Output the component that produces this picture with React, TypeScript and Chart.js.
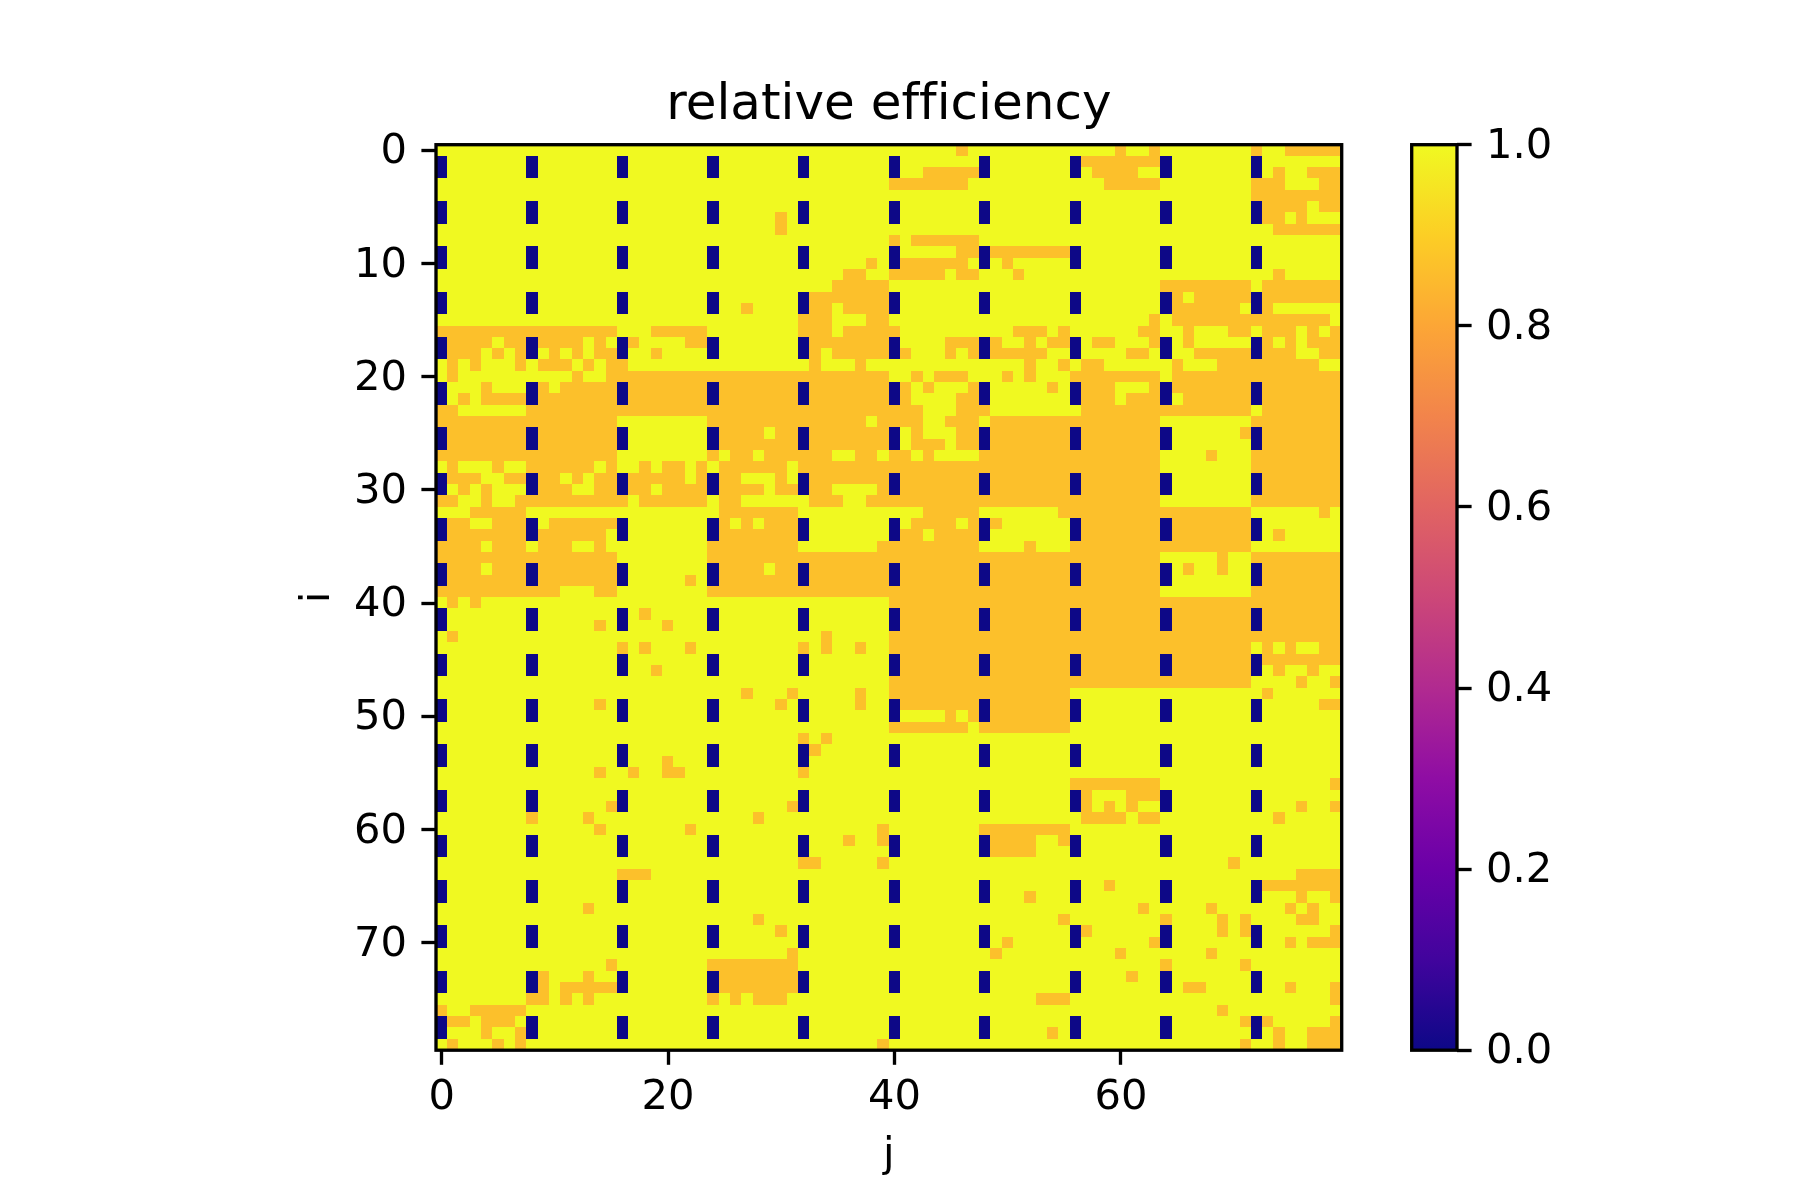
import React, { useEffect, useRef } from "react";
import { Chart, registerables, BarElement } from "chart.js";

Chart.register(...registerables);

const titleText = "relative efficiency";
const xLabel = "j";
const yLabel = "i";
const colCount = 80;
const rowCount = 80;
const xTickValues = [0, 20, 40, 60];
const yTickValues = [0, 10, 20, 30, 40, 50, 60, 70];
const colorbarTicks = [0, 0.2, 0.4, 0.6, 0.8, 1];

const highValue = 1;
const midValue = 0.865;
const zeroValue = 0;

// cells holding zeroValue: every listed row at every listed column
const zeroCols = [0, 8, 16, 24, 32, 40, 48, 56, 64, 72];
const zeroRows = [1, 2, 5, 6, 9, 10, 13, 14, 17, 18, 21, 22, 25, 26, 29, 30, 33, 34, 37, 38, 41, 42, 45, 46, 49, 50, 53, 54, 57, 58, 61, 62, 65, 66, 69, 70, 73, 74, 77, 78];

// for every row i, the columns j holding midValue (all others hold highValue)
const midRuns = [
  "46,60,63,72,75-79",
  "57-63",
  "43-47,58-61,74,77-79",
  "40-46,59-63,72-74,78-79",
  "72-79",
  "73-76,78-79",
  "30,73-74,76",
  "30,74-79",
  "40,42-47",
  "46-47,49-55",
  "38,41-46,50",
  "36-37,40-44,46-47,51,74",
  "35-39,64-71,73-79",
  "33-39,65,67-71,73-79",
  "27,33-34,36-39,65-70,73",
  "32-34,38-39,63,65-78",
  "0-15,19-23,32-34,36-40,51-53,55,62-63,66,70-71,73-75,77,79",
  "1-4,6-7,9-12,14,17,22-23,33-39,45-47,49,52,54-55,58-59,63,66,73,75,77-79",
  "1-3,5,7,10,12,14-15,19,33,35-39,41,45,47,49-53,61-62,67-71,73-75,78-79",
  "1,3,7,9-11,13,15-16,33,37,52,55,57-58,65,69-77",
  "1,12,15-39,42,44-46,50,52,56-63,65-79",
  "4,9,11-31,33-39,41,43,47,54,57-59,63,65-79",
  "2,4-7,9-39,41,46-47,57-59,61-63,66-79",
  "0-1,8-42,46-48,57-71,73-79",
  "0-15,24-37,39-42,45-47,49-63,72-79",
  "1-15,25-28,30-39,42,46-47,49-63,71,73-79",
  "1-15,25-39,42-44,46-47,49-63,73-79",
  "0-15,24,26-27,29-34,37-38,40-41,43,48-63,68,72-79",
  "1,5,8-13,15,18,20-21,23,25-30,32-63,72-79",
  "1-3,6-7,9-10,12,14-15,17-21,23,25-26,30,33-63,73-79",
  "2,4,9-11,14-15,17-18,20-23,25-28,30-31,33-34,39-63,73-79",
  "0-1,4,7-16,18-23,25-26,33-35,38-63,72-79",
  "3-7,25-31,43-47,55-71,78",
  "1-2,5-7,10-15,25,27,29-31,42-45,47,49,57-71",
  "1-7,9-14,25-31,41-42,44-47,57-71,74",
  "0-3,5-7,9-11,14,24-31,39-47,52,56-71",
  "0-15,24-63,69,72-79",
  "1-3,5-15,25-28,30-63,66,69,73-79",
  "1-15,22,25-63,73-79",
  "0-10,14-15,24-63,72-79",
  "1,3,40-79",
  "18,41-79",
  "14,20,41-79",
  "1,34,40-79",
  "16,18,22,32,34,37,40-71,73,75,78-79",
  "41-79",
  "19,41-71,74,77",
  "40-71,76,79",
  "27,31,37,40-55,73",
  "14,30,37,41-55,78-79",
  "45,47,49-55",
  "40-46,48-55",
  "32,34",
  "33",
  "20",
  "14,17,20-21,32",
  "56-63,79",
  "57,61-63",
  "15,31,57,59,61,76,79",
  "8,13,28,57-60,62-63,74",
  "14,22,39,48-55",
  "36,39,49-52,55",
  "49-52",
  "32-33,39,70",
  "16-18,76-79",
  "59,73-79",
  "52,76,79",
  "13,62,68,75,77",
  "28,55,64,69,71,76-77",
  "30,57,69,71,79",
  "50,63,75,77-79",
  "31,49,60,68",
  "15,24-31,64,71",
  "9,13,25-31,61",
  "9,11-15,25-31,66-67,75,79",
  "8-9,11,13,24,26,28-30,53-55,79",
  "0,3-7,69",
  "1-2,4-6,71,73,79",
  "4,7,54,74,77-79",
  "1,5,7,39,71,74,77-79",
];

const plasmaStops = ["#0d0887", "#41049d", "#6a00a8", "#8f0da4", "#b12a90", "#cc4778", "#e16462", "#f2844b", "#fca636", "#fcce25", "#f0f921"];

function hexToRgb(h: string) {
  return [1, 3, 5].map((k) => parseInt(h.slice(k, k + 2), 16));
}
function plasma(v: number) {
  const t = Math.min(Math.max(v, 0), 1) * (plasmaStops.length - 1);
  const a = Math.min(Math.floor(t), plasmaStops.length - 2);
  const f = t - a;
  const p = hexToRgb(plasmaStops[a]);
  const q = hexToRgb(plasmaStops[a + 1]);
  return `rgb(${p.map((c, k) => Math.round(c + (q[k] - c) * f)).join(",")})`;
}

function parseRun(text: string) {
  const cols = new Set<number>();
  if (!text) return cols;
  for (const part of text.split(",")) {
    const [a, b] = part.split("-").map(Number);
    for (let c = a; c <= (b ?? a); c++) cols.add(c);
  }
  return cols;
}

function cellValue(i: number, j: number, mids: Set<number>) {
  if (zeroRows.includes(i) && zeroCols.includes(j)) return zeroValue;
  return mids.has(j) ? midValue : highValue;
}

function buildCells() {
  const groups = new Map<number, { x: number; y: number[] }[]>([
    [highValue, []],
    [midValue, []],
    [zeroValue, []],
  ]);
  for (let i = 0; i < rowCount; i++) {
    const mids = parseRun(midRuns[i]);
    for (let j = 0; j < colCount; j++) {
      groups.get(cellValue(i, j, mids))!.push({ x: j, y: [i - 0.5, i + 0.5] });
    }
  }
  return groups;
}

// image-like cells: edges snap to whole pixels so that neighbours leave no seams
const snap = (v: number) => Math.round(v - 0.3);
BarElement.prototype.draw = function (ctx: CanvasRenderingContext2D) {
  const { x, y, base, width } = (this as any).getProps(["x", "y", "base", "width"]);
  const l = snap(x - width / 2);
  const r = snap(x + width / 2);
  const t = snap(Math.min(y, base));
  const b = snap(Math.max(y, base));
  ctx.save();
  ctx.fillStyle = (this as any).options.backgroundColor;
  ctx.fillRect(l, t, r - l, b - t);
  ctx.restore();
};

const LW = 3.33;
const TICK = 14.6;
const CB_LEFT = 1411.7;
const CB_RIGHT = 1457;
const FONT = "DejaVu Sans";

const framePlugin = {
  id: "frameAndColorbar",
  beforeDraw(chart: any) {
    // the reference's text has no ffi ligature
    chart.ctx.textRendering = "optimizeSpeed";
  },
  afterLayout(chart: any) {
    const s = chart.scales.cb;
    const w = s.right - s.left;
    s.left = CB_RIGHT;
    s.right = CB_RIGHT + w;
  },
  afterDraw(chart: any) {
    const { ctx, chartArea: a, scales } = chart;
    const s = scales.cb;
    const y0 = s.getPixelForValue(0);
    const y1 = s.getPixelForValue(1);
    const g = ctx.createLinearGradient(0, y0, 0, y1);
    plasmaStops.forEach((c, k) => g.addColorStop(k / (plasmaStops.length - 1), c));
    ctx.save();
    ctx.fillStyle = g;
    ctx.fillRect(CB_LEFT, y1, CB_RIGHT - CB_LEFT, y0 - y1);
    ctx.strokeStyle = "#000";
    ctx.lineWidth = LW;
    ctx.strokeRect(CB_LEFT, y1, CB_RIGHT - CB_LEFT, y0 - y1);
    ctx.strokeRect(a.left, a.top, a.right - a.left, a.bottom - a.top);
    ctx.restore();
  },
};

function tickGrid() {
  return {
    display: true,
    offset: false,
    drawOnChartArea: false,
    drawTicks: true,
    tickLength: TICK,
    tickWidth: LW,
    tickColor: "#000",
  };
}

export default function App() {
  const ref = useRef<HTMLCanvasElement | null>(null);
  useEffect(() => {
    document.body.style.margin = "0";
    const groups = buildCells();
    const tickFont = { family: FONT, size: 41.67 };
    const chart = new Chart(ref.current!, {
      type: "bar",
      data: {
        datasets: [highValue, midValue, zeroValue].map((v) => ({
          label: String(v),
          data: groups.get(v) as any,
          backgroundColor: plasma(v),
          grouped: false,
          barPercentage: 1,
          categoryPercentage: 1,
          xAxisID: "x",
          yAxisID: "y",
        })),
      },
      options: {
        animation: false,
        responsive: false,
        devicePixelRatio: 1,
        events: [],
        layout: { padding: { left: 293, right: 358.3, top: 76, bottom: 20 } },
        plugins: {
          legend: { display: false },
          tooltip: { enabled: false },
          title: {
            display: true,
            text: titleText,
            fullSize: false,
            color: "#000",
            font: { family: FONT, size: 50, weight: "normal" },
            padding: { top: 0, bottom: 8.7 },
          },
        },
        scales: {
          x: {
            type: "linear",
            position: "bottom",
            min: -0.5,
            max: 79.5,
            offset: false,
            border: { display: false },
            grid: tickGrid(),
            afterBuildTicks: (s: any) => {
              s.ticks = xTickValues.map((value) => ({ value }));
            },
            afterFit: (s: any) => {
              s.height = 129.8;
            },
            ticks: { color: "#000", font: tickFont, padding: 8.6, maxRotation: 0, autoSkip: false },
            title: { display: true, text: xLabel, color: "#000", font: tickFont, padding: 0 },
          },
          y: {
            type: "linear",
            position: "left",
            reverse: true,
            min: -0.5,
            max: 79.5,
            border: { display: false },
            grid: tickGrid(),
            afterBuildTicks: (s: any) => {
              s.ticks = yTickValues.map((value) => ({ value }));
            },
            afterFit: (s: any) => {
              s.width = 143;
            },
            ticks: { color: "#000", font: tickFont, padding: 14.5, labelOffset: 2.3, autoSkip: false },
            title: { display: true, text: yLabel, color: "#000", font: tickFont, padding: 0 },
          },
          cb: {
            type: "linear",
            position: "right",
            min: 0,
            max: 1,
            border: { display: false },
            grid: tickGrid(),
            afterBuildTicks: (s: any) => {
              s.ticks = colorbarTicks.map((value) => ({ value }));
            },
            afterFit: (s: any) => {
              s.width = 100;
            },
            ticks: {
              color: "#000",
              font: tickFont,
              padding: 14.3,
              labelOffset: 2.3,
              autoSkip: false,
              callback: (v: any) => Number(v).toFixed(1),
            },
          },
        },
      } as any,
      plugins: [framePlugin],
    });
    return () => chart.destroy();
  }, []);
  return <canvas ref={ref} width={1800} height={1200} style={{ display: "block" }} />;
}
